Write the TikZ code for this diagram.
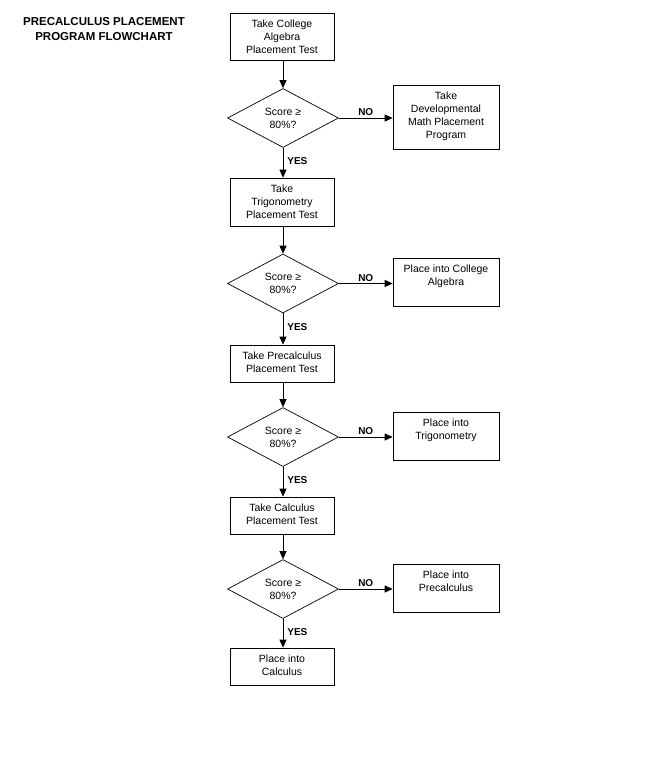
\documentclass[tikz,border=0pt]{standalone}
\usepackage{fontspec}
\setmainfont{Liberation Sans}
\usetikzlibrary{shapes.geometric,arrows.meta}
\begin{document}
\begin{tikzpicture}[x=1pt,y=-1pt,
  every node/.style={font=\fontsize{10.5}{13}\selectfont},
  box/.style={draw, line width=0.7pt, minimum height=#1, inner sep=0pt},
  lbox/.style={box=#1, minimum width=104pt},
  rbox/.style={box=#1, minimum width=106pt},
  toptext/.style={label={[anchor=north, align=center, inner sep=0pt, yshift=-7.5pt, font=\fontsize{10.5}{13}\selectfont]north:#1}},
  dec/.style={draw, line width=0.7pt, diamond, minimum width=111pt, minimum height=59pt, inner sep=0pt, align=center},
  arr/.style={draw, line width=0.8pt, -{Triangle[length=8pt,width=7pt]}},
  yes/.style={font=\fontsize{10}{12}\bfseries\selectfont, right, inner sep=4pt},
  no/.style={font=\fontsize{10}{12}\bfseries\selectfont, above, inner sep=2pt},
  ttl/.style={font=\fontsize{11.5}{15}\bfseries\selectfont, align=center}
]
\useasboundingbox (0,0) rectangle (670,760);
\fill[white] (0,0) rectangle (670,760);

\node[ttl] (title) at (104,29.5) {PRECALCULUS PLACEMENT\\PROGRAM FLOWCHART};

\node[lbox=47pt, toptext={Take College\\Algebra\\Placement Test}] (b1) at (282,36.5) {};
\node[dec] (d1) at (283,118) {Score ≥\\80\%?};
\node[rbox=64pt, toptext={Take\\Developmental\\Math Placement\\Program}] (n1) at (446,117) {};

\node[lbox=48pt, toptext={Take\\Trigonometry\\Placement Test}] (b2) at (282,202) {};
\node[dec] (d2) at (283,283.5) {Score ≥\\80\%?};
\node[rbox=48pt, toptext={Place into College\\Algebra}] (n2) at (446,282) {};

\node[lbox=37pt, toptext={Take Precalculus\\Placement Test}] (b3) at (282,363.5) {};
\node[dec] (d3) at (283,437) {Score ≥\\80\%?};
\node[rbox=48pt, toptext={Place into\\Trigonometry}] (n3) at (446,436) {};

\node[lbox=37pt, toptext={Take Calculus\\Placement Test}] (b4) at (282,515.5) {};
\node[dec] (d4) at (283,589) {Score ≥\\80\%?};
\node[rbox=48pt, toptext={Place into\\Precalculus}] (n4) at (446,588) {};

\node[lbox=37pt, toptext={Place into\\Calculus}] (b5) at (282,666.5) {};

\foreach \b/\d in {b1/d1,b2/d2,b3/d3,b4/d4}{
  \draw[arr] (\b.south -| \d.north) -- (\d.north);
}
\draw[arr] (d1.south) -- node[yes, pos=0.45] {YES} (d1.south |- b2.north);
\draw[arr] (d2.south) -- node[yes, pos=0.45] {YES} (d2.south |- b3.north);
\draw[arr] (d3.south) -- node[yes, pos=0.45] {YES} (d3.south |- b4.north);
\draw[arr] (d4.south) -- node[yes, pos=0.45] {YES} (d4.south |- b5.north);

\draw[arr] (d1.east) -- node[no, midway] {NO} (d1.east -| n1.west);
\draw[arr] (d2.east) -- node[no, midway] {NO} (d2.east -| n2.west);
\draw[arr] (d3.east) -- node[no, midway] {NO} (d3.east -| n3.west);
\draw[arr] (d4.east) -- node[no, midway] {NO} (d4.east -| n4.west);
\end{tikzpicture}
\end{document}
